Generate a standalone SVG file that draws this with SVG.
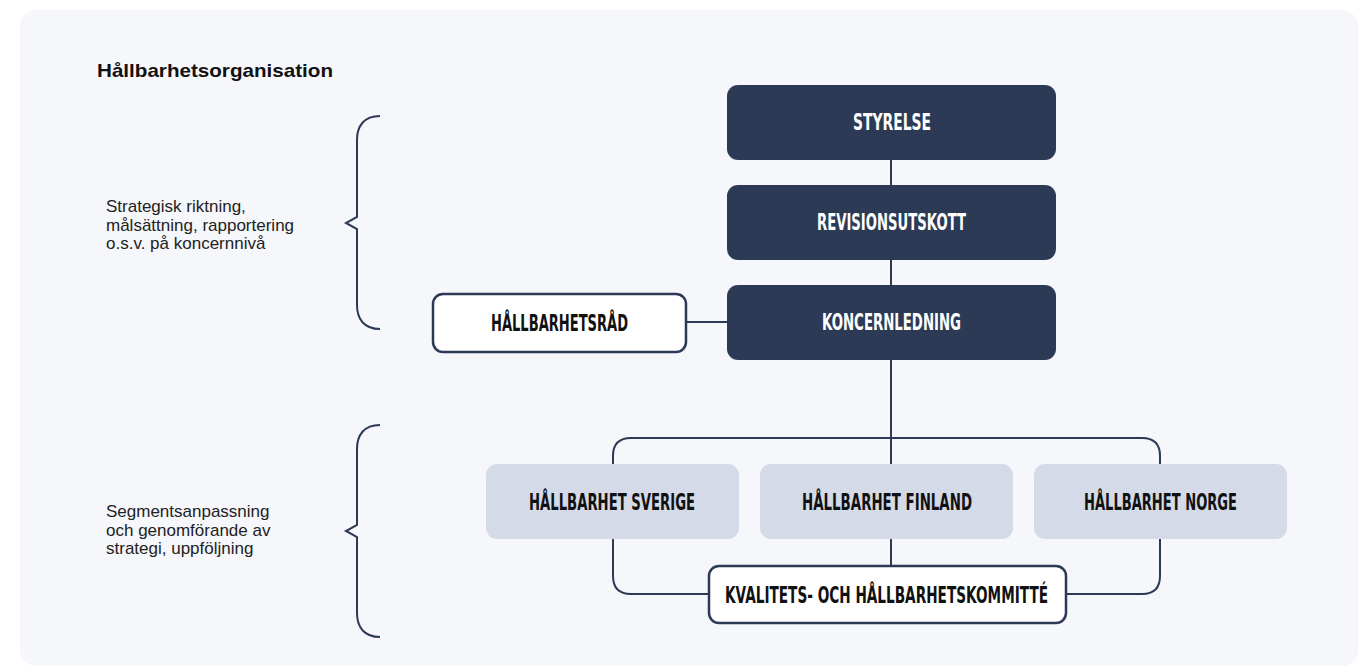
<svg xmlns="http://www.w3.org/2000/svg" width="1360" height="667" viewBox="0 0 1360 667">
<style>
.dark{fill:#2c3a55}
.light{fill:#d4dae8}
.outl{fill:#ffffff;stroke:#2c3a55;stroke-width:2.5}
.ln{fill:none;stroke:#2c3a55;stroke-width:2}
.br{fill:none;stroke:#2c3a55;stroke-width:2;stroke-linejoin:miter}
.lbl{font-family:"DejaVu Sans",sans-serif;font-weight:bold;font-size:23px;text-anchor:middle}
.w{fill:#ffffff}
.k{fill:#111111}
.side{font-family:"Liberation Sans",Arial,sans-serif;font-size:17px;fill:#222222}
.title{font-family:"Liberation Sans",Arial,sans-serif;font-weight:bold;font-size:19px;fill:#111111}
</style>
<rect x="0" y="0" width="1360" height="667" fill="#ffffff"/>
<rect x="20" y="10" width="1338" height="656" rx="16" fill="#f6f7fb"/>
<text class="title" x="97" y="77" textLength="236" lengthAdjust="spacingAndGlyphs">Hållbarhetsorganisation</text>
<g id="braces">
<path class="br" d="M380,116 C364,116 357,126 357,140 L357,217 L346,223 L357,229 L357,305 C357,319 364,329 380,329"/>
<path class="br" d="M380,425 C364,425 357,435 357,449 L357,525 L346,531 L357,537 L357,613 C357,627 364,637 380,637"/>
</g>
<g id="side-texts">
<text class="side" x="106" y="212">Strategisk riktning,</text>
<text class="side" x="106" y="230.5">målsättning, rapportering</text>
<text class="side" x="106" y="249">o.s.v. på koncernnivå</text>
<text class="side" x="106" y="517">Segmentsanpassning</text>
<text class="side" x="106" y="535.5">och genomförande av</text>
<text class="side" x="106" y="554">strategi, uppföljning</text>
</g>
<g id="connectors">
<line class="ln" x1="891" y1="160" x2="891" y2="185"/>
<line class="ln" x1="891" y1="260" x2="891" y2="285"/>
<line class="ln" x1="891" y1="360" x2="891" y2="464"/>
<line class="ln" x1="686" y1="322" x2="727" y2="322"/>
<path class="ln" d="M613,464 L613,456 Q613,438 631,438 L1142,438 Q1160,438 1160,456 L1160,464"/>
<line class="ln" x1="891" y1="539" x2="891" y2="565"/>
<path class="ln" d="M613,539 L613,576 Q613,594 631,594 L708,594"/>
<path class="ln" d="M1160,539 L1160,576 Q1160,594 1142,594 L1066,594"/>
</g>
<g id="styrelse">
<rect class="dark" x="727" y="85" width="329" height="75" rx="11"/>
<text class="lbl w" x="892" y="130" textLength="78" lengthAdjust="spacingAndGlyphs">STYRELSE</text>
</g>
<g id="revisionsutskott">
<rect class="dark" x="727" y="185" width="329" height="75" rx="11"/>
<text class="lbl w" x="891.5" y="230" textLength="149" lengthAdjust="spacingAndGlyphs">REVISIONSUTSKOTT</text>
</g>
<g id="koncernledning">
<rect class="dark" x="727" y="285" width="329" height="75" rx="11"/>
<text class="lbl w" x="891.5" y="330" textLength="139" lengthAdjust="spacingAndGlyphs">KONCERNLEDNING</text>
</g>
<g id="hallbarhetsrad">
<rect class="outl" x="433" y="294" width="253" height="58" rx="10"/>
<text class="lbl k" x="559.5" y="331" textLength="137" lengthAdjust="spacingAndGlyphs">HÅLLBARHETSRÅD</text>
</g>
<g id="sverige">
<rect class="light" x="486" y="464" width="253" height="75" rx="11"/>
<text class="lbl k" x="612" y="510" textLength="166" lengthAdjust="spacingAndGlyphs">HÅLLBARHET SVERIGE</text>
</g>
<g id="finland">
<rect class="light" x="760" y="464" width="253" height="75" rx="11"/>
<text class="lbl k" x="887" y="510" textLength="170" lengthAdjust="spacingAndGlyphs">HÅLLBARHET FINLAND</text>
</g>
<g id="norge">
<rect class="light" x="1034" y="464" width="253" height="75" rx="11"/>
<text class="lbl k" x="1160.5" y="510" textLength="153" lengthAdjust="spacingAndGlyphs">HÅLLBARHET NORGE</text>
</g>
<g id="kommitte">
<rect class="outl" x="709" y="566" width="357" height="57" rx="10"/>
<text class="lbl k" x="886.5" y="603" textLength="323" lengthAdjust="spacingAndGlyphs">KVALITETS- OCH HÅLLBARHETSKOMMITTÉ</text>
</g>
</svg>
